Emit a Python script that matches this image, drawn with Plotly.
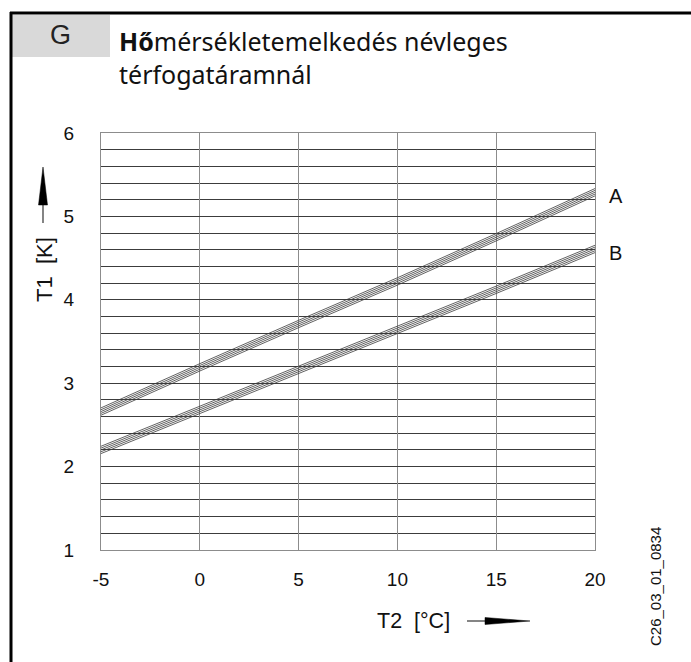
import plotly.graph_objects as go

# Temperature rise T1 [K] against T2 [°C] for the two curves A and B
t2 = [-5, 0, 5, 10, 15, 20]
curve_a = [2.66, 3.19, 3.71, 4.22, 4.75, 5.29]
curve_b = [2.20, 2.68, 3.16, 3.64, 4.12, 4.61]
curve_names = ["A", "B"]
x_ticks = [-5, 0, 5, 10, 15, 20]
y_ticks = [1, 2, 3, 4, 5, 6]

W, H = 691, 662
ML, MR, MT, MB = 101, 96, 133, 112
PW, PH = W - ML - MR, H - MT - MB


def px(x):
    return (x - ML) / PW


def py(y):
    return (H - MB - y) / PH


fig = go.Figure()

# each curve is drawn as a narrow bundle of thin parallel strokes
bundle = [-0.044, -0.022, 0.0, 0.022, 0.044]
for name, vals in zip(curve_names, [curve_a, curve_b]):
    for d in bundle:
        fig.add_trace(go.Scatter(
            x=t2, y=[v + d for v in vals], mode="lines",
            line=dict(color="#3a3a3a", width=0.8),
            hoverinfo="skip", showlegend=False))
    fig.add_annotation(x=t2[-1], y=vals[-1], xref="x", yref="y", text=name,
                       showarrow=False, xanchor="left", yanchor="middle",
                       xshift=12, yshift=-4,
                       font=dict(family="Liberation Sans", size=20, color="#111"))

fig.update_xaxes(range=[-5, 20], tickvals=x_ticks, ticktext=[str(v) for v in x_ticks],
                 showgrid=True, gridcolor="#8c8c8c", gridwidth=1.4,
                 showline=True, linecolor="#8c8c8c", linewidth=1.4, mirror=True,
                 zeroline=False, ticks="", ticklabelstandoff=12,
                 tickfont=dict(family="Liberation Sans", size=19, color="#111"))
fig.update_yaxes(range=[1, 6], tickvals=y_ticks, ticktext=[str(v) for v in y_ticks],
                 showgrid=True, gridcolor="#3c3c3c", gridwidth=1,
                 minor=dict(dtick=0.2, showgrid=True, gridcolor="#3c3c3c", gridwidth=1),
                 showline=True, linecolor="#8c8c8c", linewidth=1.4, mirror=True,
                 zeroline=False, ticks="", ticklabelstandoff=22,
                 tickfont=dict(family="Liberation Sans", size=19, color="#111"))

shapes = [
    # grey header box
    dict(type="rect", xref="paper", yref="paper", x0=px(12), x1=px(110),
         y0=py(57), y1=py(15), fillcolor="#d9d9d9", line=dict(width=0), layer="below"),
    # outer frame (top and left edges)
    dict(type="line", xref="paper", yref="paper", x0=px(10), x1=px(700),
         y0=py(13), y1=py(13), line=dict(color="#000", width=3)),
    dict(type="line", xref="paper", yref="paper", x0=px(11), x1=px(11),
         y0=py(12), y1=py(670), line=dict(color="#000", width=3)),
    # y-axis arrow
    dict(type="line", xref="paper", yref="paper", x0=px(43), x1=px(43),
         y0=py(223), y1=py(200), line=dict(color="#333", width=1.2)),
    dict(type="path", xref="paper", yref="paper",
         path=f"M {px(38.5)} {py(205)} L {px(43)} {py(167)} L {px(47.5)} {py(205)} Z",
         fillcolor="#000", line=dict(color="#000", width=0.5)),
    # x-axis arrow
    dict(type="line", xref="paper", yref="paper", x0=px(467), x1=px(492),
         y0=py(621), y1=py(621), line=dict(color="#333", width=1.2)),
    dict(type="path", xref="paper", yref="paper",
         path=f"M {px(485)} {py(617.5)} L {px(530)} {py(621)} L {px(485)} {py(624.5)} Z",
         fillcolor="#000", line=dict(color="#000", width=0.5)),
]
fig.update_layout(shapes=shapes)

annotations = [
    dict(x=px(60), y=py(35), text="G", font=dict(family="Liberation Sans", size=27, color="#222")),
    dict(x=px(117), y=py(41), text="<b>Hő</b>mérsékletemelkedés névleges", xanchor="left",
         font=dict(family="Noto Sans", size=25, color="#111")),
    dict(x=px(117), y=py(74), text="térfogatáramnál", xanchor="left",
         font=dict(family="Noto Sans", size=25, color="#111")),
    dict(x=px(44), y=py(270), text="T1  [K]", textangle=-90,
         font=dict(family="Liberation Sans", size=22, color="#111")),
    dict(x=px(413), y=py(621), text="T2  [°C]",
         font=dict(family="Liberation Sans", size=21.5, color="#111")),
    dict(x=px(655), y=py(587), text="C26_03_01_0834", textangle=-90,
         font=dict(family="Liberation Sans", size=15, color="#111")),
]
for a in annotations:
    a.setdefault("xanchor", "center")
    a.update(xref="paper", yref="paper", showarrow=False, yanchor="middle")
    fig.add_annotation(**a)

fig.update_layout(width=W, height=H, margin=dict(l=ML, r=MR, t=MT, b=MB),
                  paper_bgcolor="white", plot_bgcolor="white")

fig.write_html("out.html")
